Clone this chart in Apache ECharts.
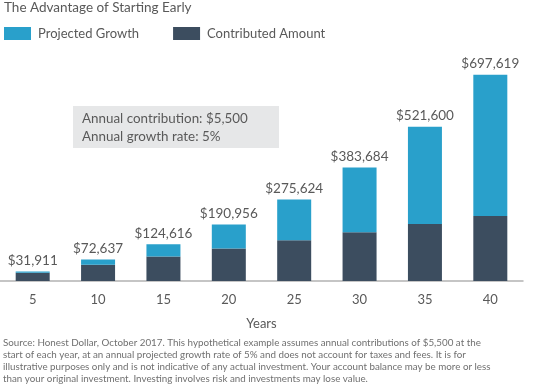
<!DOCTYPE html>
<html><head><meta charset="utf-8">
<script src="https://cdn.jsdelivr.net/npm/echarts@6/dist/echarts.min.js"></script>
<style>html,body{margin:0;padding:0;background:#fff}#c{width:537px;height:390px}</style>
</head><body><div id="c"></div>
<script>
const years = ['5','10','15','20','25','30','35','40'];
const contributed = [27500, 55000, 82500, 110000, 137500, 165000, 192500, 220000];
const totals = [31911, 72637, 124616, 190956, 275624, 383684, 521600, 697619];
const growth = totals.map((t, i) => t - contributed[i]);
const footLines = [
  'Source: Honest Dollar, October 2017. This hypothetical example assumes annual contributions of $5,500 at the',
  'start of each year, at an annual projected growth rate of 5% and does not account for taxes and fees. It is for',
  'illustrative purposes only and is not indicative of any actual investment. Your account balance may be more or less',
  'than your original investment. Investing involves risk and investments may lose value.'
];
const FONT = 'Lato, "Noto Sans", sans-serif';
const chart = echarts.init(document.getElementById('c'));
chart.setOption({
  animation: false,
  textStyle: {fontFamily: FONT},
  title: {text: 'The Advantage of Starting Early', left: 4, top: 1, padding: 0,
    textStyle: {fontSize: 13.5, fontWeight: 'normal', color: '#595959', fontFamily: FONT}},
  legend: {left: 4, top: 27, padding: 0, itemWidth: 27, itemHeight: 13, itemGap: 34, icon: 'rect',
    textStyle: {fontSize: 13, color: '#595959', fontFamily: FONT, padding: [0,0,0,2]},
    data: ['Projected Growth', 'Contributed Amount']},
  grid: {left: 0, right: 14, top: 74, bottom: 109, containLabel: false},
  xAxis: {type: 'category', data: years,
    name: 'Years', nameLocation: 'middle', nameGap: 36,
    nameTextStyle: {fontSize: 13, color: '#595959', fontFamily: FONT},
    axisLine: {lineStyle: {color: '#b3b3b3', width: 1.5}},
    axisTick: {show: false},
    axisLabel: {fontSize: 13, color: '#595959', margin: 12, fontFamily: FONT}},
  yAxis: {type: 'value', min: 0, max: 700000, show: false, splitLine: {show: false}},
  series: [
    {name: 'Contributed Amount', type: 'bar', stack: 'a', data: contributed, barWidth: 34,
      itemStyle: {color: '#3c4d5f'}},
    {name: 'Projected Growth', type: 'bar', stack: 'a', data: growth, barWidth: 34,
      itemStyle: {color: '#29a0cb'},
      label: {show: true, position: 'top', distance: 4, fontSize: 13.5, color: '#595959', fontFamily: FONT,
        formatter: p => '$' + totals[p.dataIndex].toLocaleString('en-US')}}
  ],
  graphic: [
    {type: 'rect', shape: {x: 73, y: 106, width: 206, height: 42}, style: {fill: '#e6e7e8'}, z: 0},
    {type: 'text', left: 82, top: 109, z: 1,
      style: {text: 'Annual contribution: $5,500\nAnnual growth rate: 5%', fontSize: 13.4, lineHeight: 18.5,
        fill: '#595959', fontFamily: FONT}},
    {type: 'text', left: 3, top: 337, z: 1,
      style: {text: footLines.join('\n'), fontSize: 9.8, lineHeight: 12, fill: '#707070', fontFamily: FONT}}
  ]
});
</script></body></html>
